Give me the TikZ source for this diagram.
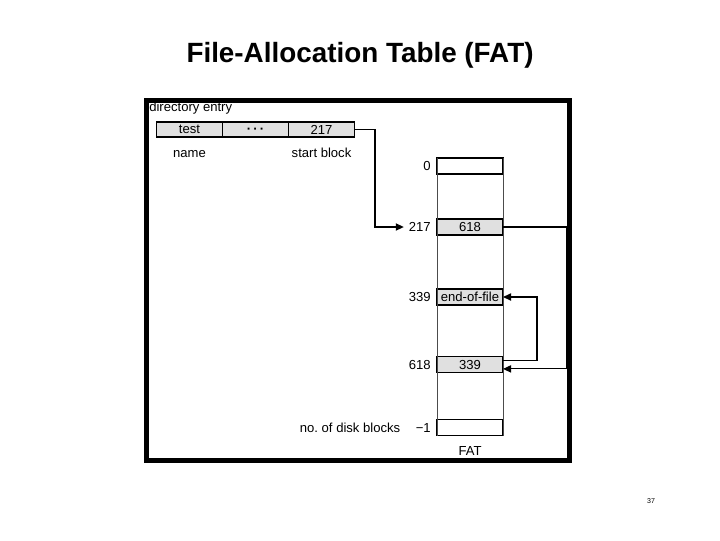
\documentclass[tikz,border=0pt]{standalone}
\usepackage{fontspec}
\setmainfont{Liberation Sans}
\frenchspacing
\usetikzlibrary{positioning}
\usetikzlibrary{arrows.meta}
\tikzset{
    cell/.style={
        rectangle,
        draw=black,
        line width=0.9pt,
        fill=black!12,
        minimum width=16.5mm,
        minimum height=3.75mm,
        inner sep=0pt,
        outer sep=0pt,
        font=\fontsize{9.3}{11}\selectfont
    },
    link/.style={
        -{Triangle[length=2mm,width=1.8mm]},
        line width=0.8pt,
        draw=black
    }
}

\begin{document}
\begin{tikzpicture}[
    x=0.025cm, y=-0.025cm, % one unit is one pixel of the slide
    lbl/.style={inner sep=0pt, font=\fontsize{9.3}{11}\selectfont},
    fatrow/.style={cell, minimum height=4mm},
    colside/.style={draw=black!70, line width=0.6pt}
]
\useasboundingbox (0,0) rectangle (720,540);

% 1. Title, frame and page number
\node[font=\fontsize{19.8}{24}\selectfont\bfseries] (title) at (360,55) {File-Allocation Table (FAT)};
\node[draw, line width=3.2pt, minimum width=105.75mm, minimum height=90mm, inner sep=0pt] (frame) at (358,280.5) {};
\node[font=\fontsize{5}{6}\selectfont] (page) at (651,501) {37};

% 2. Directory entry
\node[lbl, anchor=base west] (direntry) at (149,111.5) {directory entry};
\node[cell] (dtest) at (189.5,129.5) {test};
\node[cell, right=0pt of dtest, text height=1ex, text depth=0pt] (ddots) {\textbf{·\,·\,·}};
\node[cell, right=0pt of ddots] (dstart) {217};
\node[lbl, below=5mm of dtest.south, anchor=base] (name) {name};
\node[lbl, below=5mm of dstart.south, anchor=base] (startblock) {start block};

% 3. FAT column
\node[fatrow, fill=white] (f0) at (470,166) {};
\node[fatrow] (f217) at (470,227) {618};
\node[fatrow] (f339) at (470,297) {end-of-file};
\node[fatrow] (f618) at (470,364.5) {339};
\node[fatrow, fill=white] (flast) at (470,427.5) {};
\draw[colside] (f0.north west) -- (flast.south west);
\draw[colside] (f0.north east) -- (flast.south east);
\node[lbl, below=2.7mm of flast] (fat) {FAT};

% 4. Block numbers
\node[lbl, left=1.5mm of f0] (l0) {0};
\node[lbl, left=1.5mm of f217] (l217) {217};
\node[lbl, left=1.5mm of f339] (l339) {339};
\node[lbl, left=1.5mm of f618] (l618) {618};
\node[lbl, left=1.5mm of flast] (lminus) {−1};
\node[lbl, anchor=base east] (ndisk) at ([xshift=-3.75mm]lminus.base west) {no. of disk blocks};

% 5. Chain of blocks
\draw[link] (dstart.east) -- ++(20.5,0) |- ([xshift=-1.2mm]l217.west);
\draw[link] (f217.east) -- ++(64,0) |- ([yshift=-1.1mm]f618.east);
\draw[link] ([yshift=1.1mm]f618.east) -- ++(34,0) |- (f339.east);

\end{tikzpicture}
\end{document}
